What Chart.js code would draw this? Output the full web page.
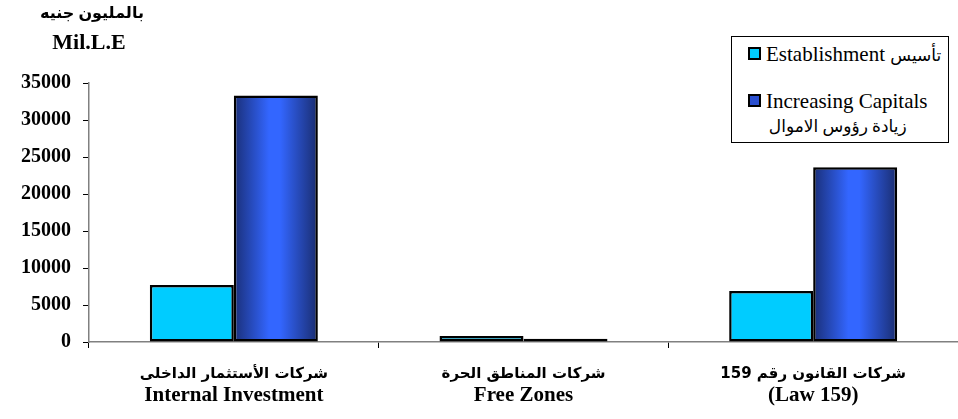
<!DOCTYPE html>
<html>
<head>
<meta charset="utf-8">
<script src="https://cdn.jsdelivr.net/npm/chart.js@4/dist/chart.umd.min.js"></script>
<style>
  body { margin: 0; background: #fff; }
  #wrap { position: relative; width: 958px; height: 419px; font-family: "Liberation Serif", "DejaVu Sans", serif; }
  .unit { position: absolute; font-weight: bold; color: #000; text-align: center; width: 120px; }
  #legend { position: absolute; left: 731px; top: 36px; width: 216px; height: 105px; border: 1px solid #000; background: #fff; font-size: 21px; color: #000; }
  .item { position: absolute; left: 16px; white-space: nowrap; line-height: 24px; }
  .box { display: inline-block; width: 9px; height: 9px; border: 2px solid #000; margin-right: 5px; vertical-align: 1px; }
  .arx { font-size: 17px; }
  .ar { display: block; text-align: center; font-size: 17px; margin-top: 2px; }
</style>
</head>
<body>
<div id="wrap">
  <canvas id="myChart" width="958" height="419"></canvas>
  <div class="unit" style="left:32px;top:3px;font-size:16px">بالمليون جنيه</div>
  <div class="unit" style="left:29px;top:29px;font-size:22px">Mil.L.E</div>
  <div id="legend"></div>
</div>
<script>
const categories = [
  ["شركات الأستثمار الداخلى", "Internal Investment"],
  ["شركات المناطق الحرة", "Free Zones"],
  ["شركات القانون رقم 159", "(Law 159)"]
];
const seriesEnglish = ["Establishment", "Increasing Capitals"];
const seriesArabic = ["تأسيس", "زيادة رؤوس الاموال"];
const establishment = [7700, 800, 6900];
const increasingCapitals = [33300, 450, 23600];
const yTicks = [0, 5000, 10000, 15000, 20000, 25000, 30000, 35000];

const catPct = 0.58;

// horizontal shading of the blue bars, like the excel gradient fill
function blueFill(context) {
  const chart = context.chart;
  const xs = chart.scales.x;
  if (!chart.chartArea || !xs) return "#3366ff";
  const center = xs.getPixelForValue(context.dataIndex);
  const barW = (xs.width / categories.length) * catPct / 2;
  const g = chart.ctx.createLinearGradient(center, 0, center + barW, 0);
  g.addColorStop(0, "#1a2f78");
  g.addColorStop(0.42, "#3366ff");
  g.addColorStop(0.55, "#3366ff");
  g.addColorStop(1, "#1a2d70");
  return g;
}

// two line category labels: arabic line and english line need different fonts
const categoryLabels = {
  id: "categoryLabels",
  afterDraw(chart) {
    const xs = chart.scales.x;
    const c = chart.ctx;
    c.save();
    c.fillStyle = "#000";
    c.textAlign = "center";
    c.textBaseline = "middle";
    categories.forEach((lab, i) => {
      const x = xs.getPixelForValue(i);
      c.direction = "rtl";
      c.font = "bold 15px 'DejaVu Sans'";
      c.fillText(lab[0], x, 374);
      c.direction = "ltr";
      c.font = "bold 21px 'Liberation Serif'";
      c.fillText(lab[1], x, 396);
    });
    c.restore();
  }
};

const ctx = document.getElementById("myChart").getContext("2d");
new Chart(ctx, {
  type: "bar",
  data: {
    labels: categories.map(c => c[1]),
    datasets: [{
      label: seriesEnglish[0],
      data: establishment,
      backgroundColor: "#00ccff",
      borderColor: "#000",
      borderWidth: 2.5,
      borderSkipped: false
    }, {
      label: seriesEnglish[1],
      data: increasingCapitals,
      backgroundColor: blueFill,
      borderColor: "#000",
      borderWidth: 2.5,
      borderSkipped: false
    }]
  },
  options: {
    responsive: false,
    animation: false,
    devicePixelRatio: 1,
    layout: { padding: { top: 83, right: 0, left: 0, bottom: 0 } },
    plugins: { legend: { display: false }, tooltip: { enabled: false } },
    datasets: { bar: { categoryPercentage: catPct, barPercentage: 1 } },
    scales: {
      x: {
        afterFit: s => { s.height = 77; },
        border: { color: "#808080", width: 1.5 },
        grid: { drawOnChartArea: false, drawTicks: true, tickLength: 6, color: "#000", offset: true },
        ticks: { display: false }
      },
      y: {
        min: 0,
        max: 35000,
        afterFit: s => { s.width = 89; },
        afterBuildTicks: s => { s.ticks = yTicks.map(v => ({ value: v })); },
        border: { color: "#808080", width: 1.5 },
        grid: { drawOnChartArea: false, drawTicks: true, tickLength: 6, color: "#000" },
        ticks: {
          color: "#000",
          padding: 12,
          callback: v => String(v),
          font: { family: "'Liberation Serif', serif", size: 20, weight: "bold" }
        }
      }
    }
  },
  plugins: [categoryLabels]
});

// legend box built from the series names
const legendColors = ["#00ccff", "#2a4fd0"];
const legendTops = [5, 52];
const legend = document.getElementById("legend");
seriesEnglish.forEach((name, i) => {
  const d = document.createElement("div");
  d.className = "item";
  d.style.top = legendTops[i] + "px";
  const sw = '<span class="box" style="background:' + legendColors[i] + '"></span>';
  if (i === 0) {
    d.innerHTML = sw + name + ' <span class="arx" dir="rtl">' + seriesArabic[i] + "</span>";
  } else {
    d.innerHTML = sw + name + '<span class="ar" dir="rtl">' + seriesArabic[i] + "</span>";
  }
  legend.appendChild(d);
});
</script>
</body>
</html>
